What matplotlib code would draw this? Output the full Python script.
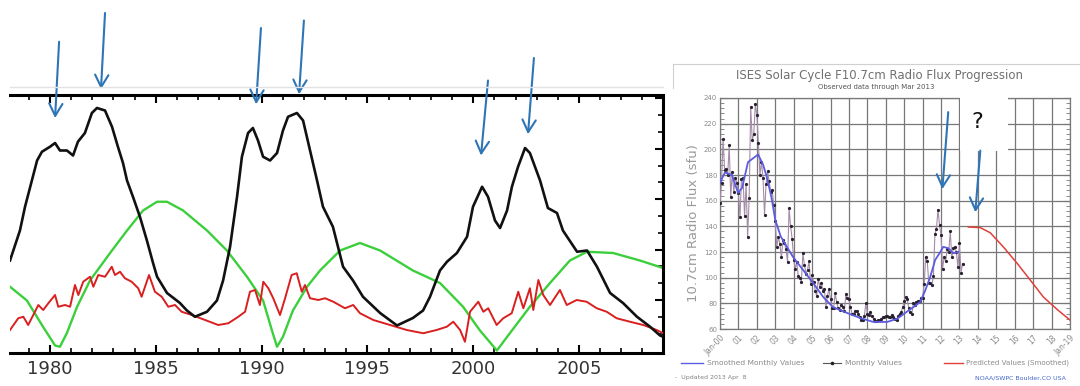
import numpy as np
import matplotlib
matplotlib.use("Agg")
import matplotlib.pyplot as plt
from matplotlib.lines import Line2D
from matplotlib.patches import Rectangle

# ---------------- left panel data (years, arbitrary flux units) ----------------
bk_yr = [1978.11, 1978.58, 1978.82, 1979.39, 1979.62, 1980.0, 1980.24, 1980.47, 1980.8, 1981.09,
         1981.32, 1981.65, 1981.98, 1982.22, 1982.6, 1982.93, 1983.21, 1983.45, 1983.64, 1983.92,
         1984.25, 1984.58, 1984.87, 1985.06, 1985.53, 1986.14, 1986.47, 1986.85, 1987.42, 1987.89,
         1988.18, 1988.51, 1988.84, 1989.07, 1989.36, 1989.59, 1989.83, 1990.07, 1990.4, 1990.73,
         1991.01, 1991.25, 1991.67, 1991.96, 1992.29, 1992.62, 1992.9, 1993.37, 1993.85, 1994.32,
         1994.79, 1995.6, 1996.4, 1997.15, 1997.63, 1997.96, 1998.43, 1998.76, 1999.23, 1999.71,
         1999.99, 2000.42, 2000.7, 2001.03, 2001.27, 2001.6, 2001.83, 2002.12, 2002.45, 2002.68,
         2003.16, 2003.53, 2003.96, 2004.24, 2004.91, 2005.38, 2005.85, 2006.47, 2007.08, 2007.74,
         2008.36, 2008.83, 2008.97]
bk_val = [124, 148, 167, 204, 211, 215, 218, 212, 212, 208,
          219, 226, 242, 246, 244, 231, 215, 202, 188, 175,
          159, 140, 122, 111, 98, 90, 84, 79, 83, 92,
          108, 135, 175, 207, 226, 230, 220, 207, 204, 210,
          228, 239, 242, 236, 212, 188, 167, 151, 119, 108,
          95, 82, 72, 78, 84, 95, 116, 123, 130, 143,
          167, 183, 175, 156, 150, 164, 183, 199, 214, 210,
          188, 166, 162, 148, 131, 132, 119, 98, 90, 79,
          71, 64, 63]

gr_yr = [1978.11, 1978.91, 1979.67, 1980.24, 1980.47, 1980.8, 1981.28, 1981.89, 1982.84, 1983.64,
         1984.4, 1985.06, 1985.53, 1986.29, 1987.42, 1988.36, 1989.31, 1990.07, 1990.49, 1990.73,
         1991.01, 1991.48, 1992.15, 1992.76, 1993.71, 1994.65, 1995.6, 1997.15, 1998.43, 1999.52,
         2000.32, 2001.12, 2001.74, 2002.68, 2003.63, 2004.57, 2005.38, 2006.61, 2007.88, 2008.97]
gr_val = [103, 92, 71, 56, 55, 66, 87, 108, 130, 148,
          164, 171, 171, 164, 148, 132, 111, 92, 68, 55,
          63, 84, 103, 116, 132, 138, 132, 116, 106, 87,
          68, 52, 66, 87, 106, 124, 131, 130, 124, 118]

rd_yr = [1978.11, 1978.50, 1978.74, 1978.97, 1979.21, 1979.45, 1979.68, 1979.92, 1980.24, 1980.39,
         1980.71, 1980.95, 1981.18, 1981.34, 1981.57, 1981.89, 1982.05, 1982.28, 1982.60, 1982.92,
         1983.07, 1983.31, 1983.54, 1983.86, 1984.17, 1984.33, 1984.68, 1984.96, 1985.28, 1985.59,
         1985.91, 1986.22, 1986.70, 1987.33, 1987.95, 1988.43, 1988.90, 1989.22, 1989.45, 1989.69,
         1989.92, 1990.08, 1990.32, 1990.55, 1990.87, 1991.11, 1991.42, 1991.66, 1991.90, 1992.05,
         1992.29, 1992.68, 1993.00, 1993.39, 1993.94, 1994.33, 1994.65, 1995.28, 1996.07, 1996.86,
         1997.64, 1998.27, 1998.75, 1999.06, 1999.38, 1999.61, 1999.85, 2000.24, 2000.48, 2000.71,
         2001.11, 2001.42, 2001.82, 2002.13, 2002.37, 2002.68, 2002.84, 2003.08, 2003.31, 2003.63,
         2004.10, 2004.42, 2004.89, 2005.36, 2005.84, 2006.31, 2006.78, 2007.41, 2008.04, 2008.67,
         2008.98]
rd_val = [68.4, 77.8, 79.0, 72.4, 80.4, 88.4, 84.4, 89.8, 96.4, 87.0,
          88.4, 87.0, 104.4, 96.4, 107.0, 111.0, 103.0, 112.4, 111.0, 119.0,
          112.4, 115.0, 109.8, 107.0, 101.8, 95.0, 112.4, 99.0, 95.0, 87.0,
          88.4, 83.0, 80.4, 76.4, 72.4, 73.8, 79.0, 83.0, 99.0, 100.4,
          88.4, 107.0, 101.8, 93.8, 80.4, 93.8, 112.4, 113.8, 99.0, 104.4,
          93.8, 92.4, 93.8, 91.0, 85.8, 88.4, 81.8, 76.4, 72.4, 68.4,
          65.8, 68.4, 71.0, 75.0, 68.4, 59.0, 83.0, 91.0, 83.0, 85.8,
          72.4, 77.8, 81.8, 99.0, 85.8, 101.8, 84.4, 108.4, 96.4, 88.4,
          100.4, 88.4, 92.4, 91.0, 85.8, 83.0, 77.8, 75.0, 72.4, 68.4,
          65.8]

# arrows (tip / tail) in left panel data units
arr_tip_yr = [1980.24, 1982.41, 1989.74, 1991.77, 2000.37, 2002.59]
arr_tip_val = [238, 261, 249, 257, 208, 225]
arr_tail_yr = [1980.43, 1982.6, 1989.97, 1992.0, 2000.70, 2002.87]
arr_tail_val = [299, 322, 310, 316, 268, 286]

# ---------------- right panel data (ISES F10.7) ----------------
monthly = [158, 174, 208, 184, 185, 180, 203, 163, 182, 167, 178, 174,
           166, 147, 177, 178, 148, 173, 132, 162, 233, 207, 212, 235,
           227, 205, 180, 190, 178, 149, 173, 183, 175, 167, 168, 157,
           144, 124, 132, 126, 116, 129, 127, 122, 112, 154, 140, 130,
           114, 107, 112, 101, 100, 97, 119, 110, 103, 106, 113, 95,
           102, 97, 90, 86, 99, 93, 96, 90, 91, 77, 86, 91,
           83, 76, 76, 88, 81, 76, 75, 79, 77, 74, 87, 84,
           83, 77, 72, 72, 74, 74, 72, 69, 67, 67, 70, 80,
           72, 71, 73, 70, 68, 66, 66, 67, 67, 68, 69, 69,
           70, 70, 69, 69, 71, 69, 68, 67, 70, 72, 73, 77,
           82, 85, 83, 76, 73, 72, 80, 79, 81, 82, 82, 84,
           84, 95, 116, 113, 96, 96, 94, 101, 134, 138, 153, 141,
           133, 107, 116, 113, 122, 120, 136, 116, 123, 124, 120, 108,
           127, 104, 111]
monthly_t = 2000 + np.arange(len(monthly)) / 12.0

smooth_t = [2000.0, 2000.27, 2000.65, 2000.98, 2001.2, 2001.52, 2002.07, 2002.34, 2002.55, 2002.8,
            2003.0, 2003.3, 2003.97, 2004.51, 2005.05, 2005.6, 2006.14, 2006.9, 2007.61, 2008.32,
            2009.08, 2009.62, 2010.1, 2010.49, 2010.87, 2011.14, 2011.41, 2011.68, 2011.96, 2012.12,
            2012.39, 2012.66, 2012.93]
smooth_v = [174, 182, 180, 166, 170, 190, 196, 188, 178, 162,
            145, 132, 116, 106, 96, 85, 77, 72.5, 68.6, 65.5,
            65.5, 68, 73, 77, 81, 90, 100.5, 113.8, 120, 124,
            123, 119, 120]

pred_t = [2013.48, 2014.13, 2014.67, 2015.38, 2016.14, 2016.85, 2017.55, 2018.32, 2019.0]
pred_v = [139.5, 139, 135, 124, 111, 98, 85, 75, 67]

r_tip_t = [2012.07, 2013.86]
r_tip_v = [169, 151]
r_tail_t = [2012.39, 2014.13]
r_tail_v = [229, 199]

x_labels = ["Jan-00"] + ["%02d" % i for i in range(1, 19)] + ["Jan-19"]

# ---------------- figure ----------------
W, H = 1080, 386
fig = plt.figure(figsize=(W / 100, H / 100), dpi=100)


def fx(px):
    return px / W


def fy(py):
    return 1 - py / H


ARROW = "#2e75b6"
arrow_props = dict(arrowstyle="->,head_length=0.55,head_width=0.3", color=ARROW,
                   lw=1.5, mutation_scale=16, shrinkA=0, shrinkB=0)

# ---- left panel ----
ax1 = fig.add_axes([fx(10), fy(353), fx(663) - fx(10), fy(95) - fy(353)])
ax1.plot(gr_yr, gr_val, color="#3ccf3c", lw=1.7, zorder=2)
ax1.plot(rd_yr, rd_val, color="#d91f1f", lw=1.4, zorder=3)
ax1.plot(bk_yr, bk_val, color="#111111", lw=1.9, zorder=4)
ax1.set_xlim(1978.11, 2008.97)
ax1.set_ylim(50, 256.4)
ax1.spines["left"].set_visible(False)
for s in ("top", "bottom", "right"):
    ax1.spines[s].set_linewidth(2.2)
ax1.set_xticks(np.arange(1980, 2006, 5))
ax1.set_xticks(np.arange(1979, 2009, 1), minor=True)
ax1.set_yticks([92.4, 132.7, 173.0, 213.4, 253.7])
ax1.set_yticks(np.arange(65.5, 256, 13.44), minor=True)
ax1.tick_params(axis="x", which="both", direction="in", top=True, bottom=True,
                labelsize=13, labelcolor="#333333", pad=5)
ax1.tick_params(axis="x", which="major", length=6, width=1.5)
ax1.tick_params(axis="x", which="minor", length=3.5, width=1.2)
ax1.tick_params(axis="y", which="both", direction="in", left=False, right=True,
                labelleft=False, labelright=False)
ax1.tick_params(axis="y", which="major", length=6, width=1.5)
ax1.tick_params(axis="y", which="minor", length=3.5, width=1.2)
for tx, ty, hx, hy in zip(arr_tail_yr, arr_tail_val, arr_tip_yr, arr_tip_val):
    ax1.annotate("", xy=(hx, hy), xytext=(tx, ty), arrowprops=arrow_props,
                 annotation_clip=False, zorder=6)
fig.add_artist(Line2D([fx(10), fx(663)], [fy(87), fy(87)], color="#e2e2e2", lw=1))

# ---- right panel ----
GRAY = "#777777"
ax2 = fig.add_axes([fx(720), fy(329), fx(1070) - fx(720), fy(98) - fy(329)])
ax2.plot(monthly_t, monthly, color="#a48ca8", lw=0.8, zorder=3)
ax2.plot(monthly_t, monthly, ls="none", marker="o", ms=1.3, color="#2a2030", zorder=3)
ax2.plot(smooth_t, smooth_v, color="#5c5ce0", lw=1.3, zorder=4)
ax2.plot(pred_t, pred_v, color="#e04038", lw=1.1, zorder=4)
ax2.set_xlim(2000, 2019)
ax2.set_ylim(60, 240)
ax2.set_xticks(np.arange(2000, 2020))
ax2.set_xticklabels(x_labels, rotation=45, ha="right", rotation_mode="anchor")
ax2.set_yticks(np.arange(60, 241, 20))
ax2.set_yticks(np.arange(60, 241, 4), minor=True)
ax2.grid(True, which="major", color=GRAY, lw=0.9)
for s in ax2.spines.values():
    s.set_color(GRAY)
    s.set_linewidth(0.9)
ax2.tick_params(axis="x", length=0, labelsize=5.5, labelcolor="#8a8a8a", pad=3)
ax2.tick_params(axis="y", which="both", direction="in", left=True, right=True,
                color=GRAY, labelsize=5, labelcolor="#8a8a8a", pad=2)
ax2.tick_params(axis="y", which="major", length=5)
ax2.tick_params(axis="y", which="minor", length=3)
ax2.set_ylabel("10.7cm Radio Flux (sfu)", fontsize=9.5, color="#9a9a9a")
ax2.yaxis.set_label_coords(-0.058, 0.46)

ax2.add_patch(Rectangle((2013.04, 199), 2.6, 50, facecolor="white", edgecolor="none",
                        zorder=5, clip_on=False))
ax2.text(2013.95, 221, "?", fontsize=16, ha="center", va="center", color="#111111", zorder=7)
for tx, ty, hx, hy in zip(r_tail_t, r_tail_v, r_tip_t, r_tip_v):
    ax2.annotate("", xy=(hx, hy), xytext=(tx, ty), arrowprops=arrow_props,
                 annotation_clip=False, zorder=6)

# title block
fig.add_artist(Line2D([fx(673), fx(1080)], [fy(64), fy(64)], color="#d0d0d0", lw=0.8))
fig.add_artist(Line2D([fx(673), fx(673)], [fy(64), fy(88)], color="#d0d0d0", lw=0.8))
fig.text(fx(880), fy(75), "ISES Solar Cycle F10.7cm Radio Flux Progression", fontsize=8.5,
         color="#707070", ha="center", va="center")
fig.text(fx(876), fy(87), "Observed data through Mar 2013", fontsize=5, color="#555555",
         ha="center", va="center")

# legend row
fig.add_artist(Line2D([fx(681), fx(703)], [fy(363), fy(363)], color="#5c5ce0", lw=1))
fig.text(fx(707), fy(363), "Smoothed Monthly Values", fontsize=5.4, color="#8a8a8a", va="center")
fig.add_artist(Line2D([fx(823), fx(841)], [fy(363), fy(363)], color="#555555", lw=0.8))
fig.add_artist(Line2D([fx(832)], [fy(363)], marker="o", ms=1.6, color="#222222"))
fig.text(fx(845), fy(363), "Monthly Values", fontsize=5.4, color="#8a8a8a", va="center")
fig.add_artist(Line2D([fx(944), fx(963)], [fy(363), fy(363)], color="#e04038", lw=1))
fig.text(fx(966), fy(363), "Predicted Values (Smoothed)", fontsize=5.1, color="#8a8a8a",
         va="center")
fig.text(fx(675), fy(378), "-  Updated 2013 Apr  8", fontsize=4.5, color="#808080", va="center")
fig.text(fx(975), fy(378), "NOAA/SWPC Boulder,CO USA", fontsize=4.5, color="#4466cc", va="center")

fig.savefig("out.png", dpi=100)
